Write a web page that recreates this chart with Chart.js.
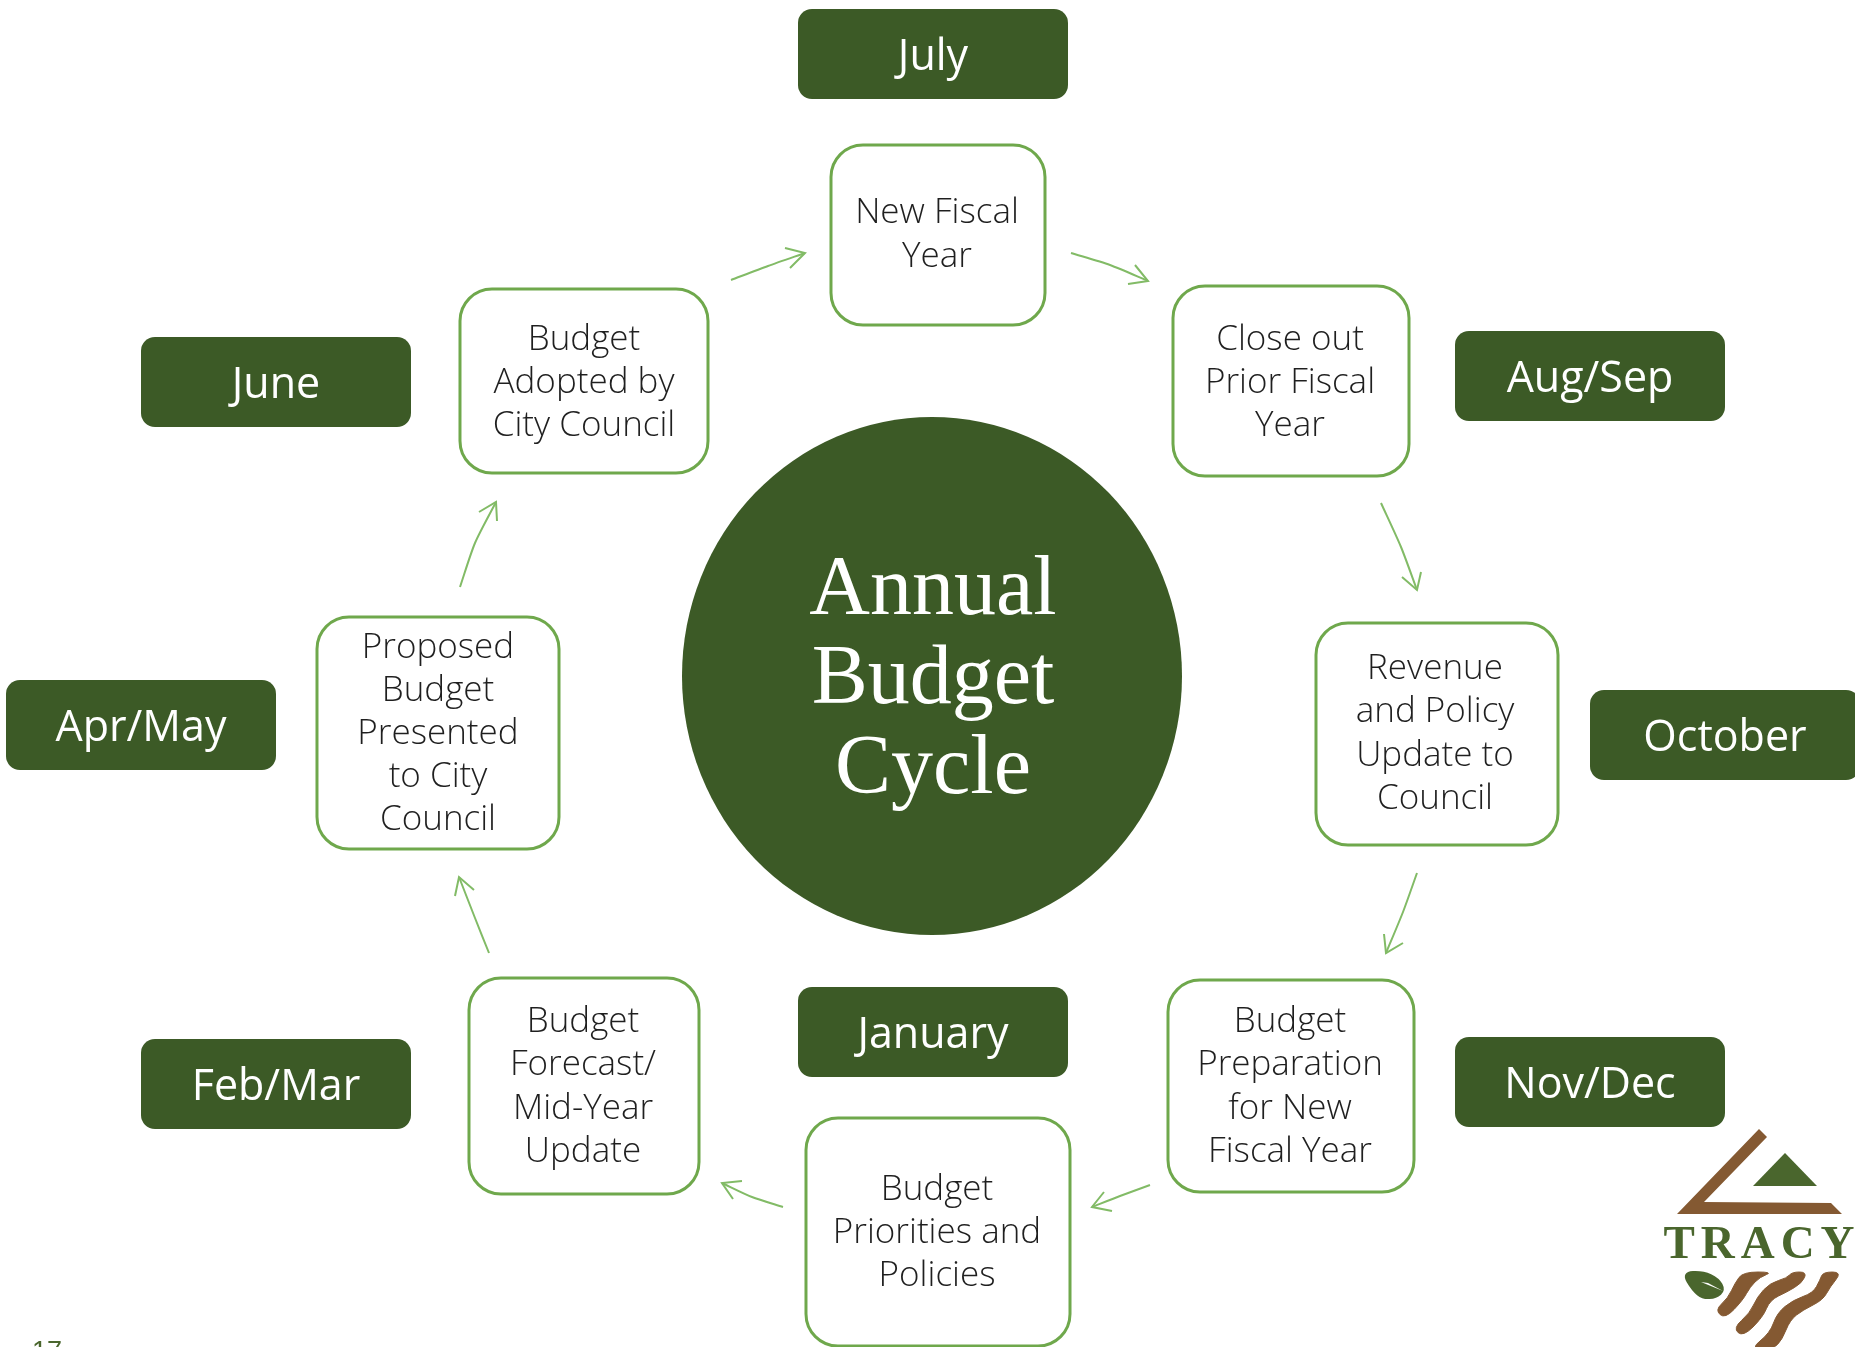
<!DOCTYPE html>
<html>
<head>
<meta charset="utf-8">
<title>Annual Budget Cycle</title>
<script src="https://cdn.jsdelivr.net/npm/chart.js@4"></script>
<style>
  html, body { margin: 0; padding: 0; background: #fff; overflow: hidden; }
  canvas { display: block; }
</style>
</head>
<body>
<canvas id="cycleChart" width="1855" height="1347"></canvas>
<script>
// months around the ring in picture pixels
const monthLabels = ['July', 'Aug/Sep', 'October', 'Nov/Dec', 'January', 'Feb/Mar', 'Apr/May', 'June'];
const monthX = [933, 1590, 1725, 1590, 933, 276, 141, 276];
const monthY = [54, 376, 735, 1082, 1032, 1084, 725, 382];

// process steps
const stepLabels = [
  ['New Fiscal', 'Year'],
  ['Close out', 'Prior Fiscal', 'Year'],
  ['Revenue', 'and Policy', 'Update to', 'Council'],
  ['Budget', 'Preparation', 'for New', 'Fiscal Year'],
  ['Budget', 'Priorities and', 'Policies'],
  ['Budget', 'Forecast/', 'Mid-Year', 'Update'],
  ['Proposed', 'Budget', 'Presented', 'to City', 'Council'],
  ['Budget', 'Adopted by', 'City Council']
];
const stepX = [938, 1291, 1437, 1291, 938, 584, 438, 584];
const stepY = [235, 381, 734, 1086, 1232, 1086, 733, 381];
const stepW = [214, 236, 242, 246, 264, 230, 242, 248];
const stepH = [180, 190, 222, 212, 228, 216, 232, 184];
const stepTextX = [937, 1290, 1435, 1290, 937, 583, 438, 584];
const stepTextY = [234, 382, 733, 1086, 1232, 1086, 733, 382];

// centre circle
const titleLines = ['Annual', 'Budget', 'Cycle'];
const titleX = [933];
const titleBaselines = [614, 703, 793];
const circleX = [932];
const circleY = [676];

// arrows: start, middle, tip of the shaft, then the two barbs
const arrowShafts = [
  [[1071, 253], [1110, 265], [1148, 281]],
  [[1381, 503], [1401, 547], [1417, 590]],
  [[1417, 873], [1403, 912], [1386, 953]],
  [[1150, 1185], [1120, 1196], [1092, 1207]],
  [[783, 1207], [752, 1197], [722, 1183]],
  [[489, 953], [475, 918], [459, 877]],
  [[460, 587], [475, 543], [496, 502]],
  [[731, 280], [768, 266], [805, 253]]
];
const arrowBarbs = [
  [[1135, 265], [1128, 284]],
  [[1402, 577], [1421, 572]],
  [[1384, 934], [1403, 943]],
  [[1104, 1192], [1112, 1211]],
  [[742, 1181], [733, 1199]],
  [[455, 896], [474, 890]],
  [[479, 512], [497, 521]],
  [[785, 248], [790, 268]]
];

// logo outlines
const logoChevron = [[1759, 1129], [1767, 1137], [1704, 1202], [1831, 1203], [1842, 1214], [1677, 1214]];
const logoPeak = [[1785, 1153], [1817, 1186], [1753, 1186]];
const logoLeaf = [[1683, 1273], [1703, 1272], [1718, 1279], [1724, 1290], [1716, 1297], [1703, 1298], [1693, 1290]];
const logoVein = [[1701, 1282], [1723, 1291], [1708, 1283]];
const logoStripes = [
  [[1743, 1272], [1773, 1272], [1760, 1277], [1750, 1287], [1743, 1300], [1725, 1319], [1715, 1310], [1728, 1298], [1735, 1283]],
  [[1792, 1272], [1807, 1272], [1802, 1283], [1787, 1292], [1770, 1300], [1763, 1317], [1743, 1337], [1733, 1328], [1750, 1313], [1757, 1297], [1770, 1283], [1787, 1278]],
  [[1823, 1272], [1842, 1272], [1830, 1287], [1823, 1300], [1803, 1310], [1790, 1320], [1782, 1340], [1773, 1349], [1750, 1349], [1770, 1333], [1777, 1313], [1793, 1300], [1813, 1293], [1820, 1280]]
];
const logoWord = ['TRACY'];
const pageNumber = ['17'];

const DARK_GREEN = '#3c5a26';
const LINE_GREEN = '#6fa84c';
const ARROW_GREEN = '#82bb66';
const LOGO_GREEN = '#4a662d';
const LOGO_BROWN = '#845932';

// a rounded box on its own canvas, used as the point style of a scatter point
function boxSprite(w, h, r, fill, stroke) {
  const c = document.createElement('canvas');
  c.width = w + 6;
  c.height = h + 6;
  const g = c.getContext('2d');
  g.beginPath();
  g.roundRect(3, 3, w, h, r);
  g.fillStyle = fill;
  g.fill();
  if (stroke) {
    g.lineWidth = 3;
    g.strokeStyle = stroke;
    g.stroke();
  }
  return c;
}

function circleSprite(rx, ry, fill) {
  const c = document.createElement('canvas');
  c.width = rx * 2 + 2;
  c.height = ry * 2 + 2;
  const g = c.getContext('2d');
  g.beginPath();
  g.ellipse(rx + 1, ry + 1, rx, ry, 0, 0, Math.PI * 2);
  g.fillStyle = fill;
  g.fill();
  return c;
}

const toPoints = (xs, ys) => xs.map((x, i) => ({ x, y: ys[i] }));
const pairsToPoints = pairs => pairs.map(p => ({ x: p[0], y: p[1] }));

const datasets = [];

arrowShafts.forEach((shaft, i) => {
  datasets.push({
    type: 'line', data: pairsToPoints(shaft), borderColor: ARROW_GREEN, borderWidth: 2,
    tension: 0.25, pointRadius: 0, fill: false
  });
  datasets.push({
    type: 'line', data: pairsToPoints([arrowBarbs[i][0], shaft[2], arrowBarbs[i][1]]),
    borderColor: ARROW_GREEN, borderWidth: 2, tension: 0, pointRadius: 0, fill: false
  });
});

datasets.push({
  label: 'circle', type: 'scatter', data: toPoints(circleX, circleY),
  pointStyle: [circleSprite(250, 259, DARK_GREEN)], pointRadius: 1
});
datasets.push({
  label: 'months', type: 'scatter', data: toPoints(monthX, monthY),
  pointStyle: monthX.map(() => boxSprite(270, 90, 14, DARK_GREEN, null)), pointRadius: 1
});
datasets.push({
  label: 'steps', type: 'scatter', data: toPoints(stepX, stepY),
  pointStyle: stepX.map((x, i) => boxSprite(stepW[i], stepH[i], 32, '#ffffff', LINE_GREEN)), pointRadius: 1
});

function fillShape(ctx, x, y, pts, colour, grow) {
  const px = pts.map(p => [x.getPixelForValue(p[0]), y.getPixelForValue(p[1])]);
  ctx.beginPath();
  if (grow) {
    const n = px.length;
    ctx.moveTo((px[n - 1][0] + px[0][0]) / 2, (px[n - 1][1] + px[0][1]) / 2);
    for (let i = 0; i < n; i++) {
      const next = px[(i + 1) % n];
      ctx.quadraticCurveTo(px[i][0], px[i][1], (px[i][0] + next[0]) / 2, (px[i][1] + next[1]) / 2);
    }
  } else {
    px.forEach((p, i) => i ? ctx.lineTo(p[0], p[1]) : ctx.moveTo(p[0], p[1]));
  }
  ctx.closePath();
  ctx.fillStyle = colour;
  ctx.fill();
  if (grow) {
    // the rounding eats into the outline, so grow it back a little
    ctx.lineWidth = grow;
    ctx.strokeStyle = colour;
    ctx.stroke();
  }
}

// labels and the logo, placed through the chart scales
const labelPlugin = {
  id: 'labelPlugin',
  afterDatasetsDraw(chart) {
    const { ctx, scales: { x, y } } = chart;
    ctx.save();
    ctx.textAlign = 'center';
    ctx.textBaseline = 'alphabetic';

    ctx.fillStyle = '#ffffff';
    ctx.font = '84px "Liberation Serif"';
    titleLines.forEach((t, i) => ctx.fillText(t, x.getPixelForValue(titleX[0]), y.getPixelForValue(titleBaselines[i])));

    ctx.font = '43px "Open Sans"';
    monthLabels.forEach((t, i) => {
      ctx.fillText(t, x.getPixelForValue(monthX[i]), y.getPixelForValue(monthY[i] + 16));
    });

    ctx.fillStyle = '#1f1f1f';
    ctx.font = '300 35px "Open Sans"';
    stepLabels.forEach((lines, i) => {
      const top = stepTextY[i] - (lines.length - 1) * 43.2 / 2;
      lines.forEach((t, j) => {
        ctx.fillText(t, x.getPixelForValue(stepTextX[i]), y.getPixelForValue(top + j * 43.2 + 11));
      });
    });

    fillShape(ctx, x, y, logoChevron, LOGO_BROWN, 0);
    fillShape(ctx, x, y, logoPeak, LOGO_GREEN, 0);
    fillShape(ctx, x, y, logoLeaf, LOGO_GREEN, 3);
    fillShape(ctx, x, y, logoVein, '#ffffff', 0);
    logoStripes.forEach(s => fillShape(ctx, x, y, s, LOGO_BROWN, 1));

    ctx.fillStyle = LOGO_GREEN;
    ctx.font = 'bold 47px "Liberation Serif"';
    ctx.letterSpacing = '6px';
    ctx.fillText(logoWord[0], x.getPixelForValue(1762), y.getPixelForValue(1258));
    ctx.letterSpacing = '0px';

    ctx.fillStyle = LOGO_GREEN;
    ctx.font = '27px "Liberation Sans"';
    ctx.fillText(pageNumber[0], x.getPixelForValue(47), y.getPixelForValue(1360));
    ctx.restore();
  }
};

new Chart(document.getElementById('cycleChart').getContext('2d'), {
  type: 'scatter',
  data: { datasets },
  options: {
    responsive: false,
    animation: false,
    events: [],
    layout: { padding: 0, autoPadding: false },
    plugins: { legend: { display: false }, tooltip: { enabled: false } },
    scales: {
      x: { type: 'linear', display: false, min: 0, max: 1855 },
      y: { type: 'linear', display: false, min: 0, max: 1347, reverse: true }
    }
  },
  plugins: [labelPlugin]
});
</script>
</body>
</html>
